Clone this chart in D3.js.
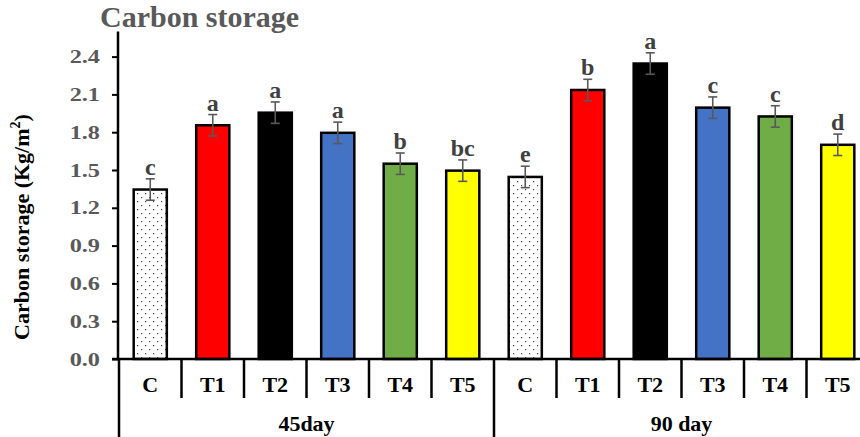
<!DOCTYPE html>
<html><head><meta charset="utf-8">
<script src="https://cdn.jsdelivr.net/npm/d3@7"></script>
<style>body{margin:0;background:#fff;}svg{display:block;}</style>
</head><body>
<svg id="chart" width="860" height="437"></svg>
<script>
const categories = ["C","T1","T2","T3","T4","T5"];
const groups = ["45day","90 day"];
const values45 = [1.345, 1.855, 1.955, 1.795, 1.55, 1.495];
const values90 = [1.445, 2.135, 2.345, 1.995, 1.925, 1.70];
const errors45 = [0.085, 0.085, 0.085, 0.085, 0.085, 0.085];
const errors90 = [0.085, 0.085, 0.085, 0.085, 0.085, 0.085];
const letters45 = ["c","a","a","a","b","bc"];
const letters90 = ["e","b","a","c","c","d"];
const fills = ["url(#dots)","#ff0000","#000000","#4472c4","#70ad47","#ffff00"];
const yTicks = [0,0.3,0.6,0.9,1.2,1.5,1.8,2.1,2.4];

const data = [];
groups.forEach((g,gi)=>{
  const vals = gi===0?values45:values90, errs = gi===0?errors45:errors90, lets = gi===0?letters45:letters90;
  categories.forEach((c,ci)=>data.push({key:gi+"-"+ci, group:g, cat:c, ci, v:vals[ci], e:errs[ci], l:lets[ci]}));
});

const svg = d3.select("#chart");
const font = "'Liberation Serif','Times New Roman',serif";
const defs = svg.append("defs");
const pat = defs.append("pattern").attr("id","dots").attr("patternUnits","userSpaceOnUse").attr("width",8).attr("height",8);
pat.append("rect").attr("width",8).attr("height",8).attr("fill","#fff");
pat.append("rect").attr("x",1).attr("y",1).attr("width",1.2).attr("height",1.2).attr("fill","#444");
pat.append("rect").attr("x",5).attr("y",5).attr("width",1.2).attr("height",1.2).attr("fill","#444");

const x0 = 119, x1 = 869, yBase = 359;
const x = d3.scaleBand().domain(data.map(d=>d.key)).range([x0,x1]).paddingInner(0.47).paddingOuter(0.235);
const y = d3.scaleLinear().domain([0,2.6]).range([yBase, yBase - 2.6/0.3*37.8]);

// title
svg.append("text").attr("x",100).attr("y",27).attr("font-family",font).attr("font-weight","bold")
  .attr("font-size",30).attr("fill","#595959").text("Carbon storage");

// y axis
const yAxis = d3.axisLeft(y).tickValues(yTicks).tickSize(6).tickFormat(d3.format(".1f"));
const ga = svg.append("g").attr("transform",`translate(${x0-1},0)`).call(yAxis);
ga.select(".domain").attr("stroke","#000").attr("stroke-width",2.5).attr("d",`M0,${y(2.6)}V${yBase}`);
ga.selectAll(".tick line").attr("stroke","#000").attr("stroke-width",2);
ga.selectAll(".tick text").each(function(){
  const t = d3.select(this);
  t.attr("x",null).attr("dy",null).attr("text-anchor","end")
   .attr("transform","translate(-18,6) scale(1.35,1)")
   .attr("font-family",font).attr("font-weight","bold").attr("font-size",18).attr("fill","#595959");
});

// y label
const yl = svg.append("text").attr("transform","translate(29,227) rotate(-90)").attr("text-anchor","middle")
  .attr("font-family",font).attr("font-weight","bold").attr("font-size",22).attr("fill","#000");
yl.append("tspan").text("Carbon storage (Kg/m");
yl.append("tspan").attr("font-size",14).attr("dy",-9).text("2");
yl.append("tspan").attr("dy",9).text(")");

// bars
svg.append("g").selectAll("rect").data(data).join("rect")
  .attr("x",d=>x(d.key)).attr("width",x.bandwidth())
  .attr("y",d=>y(d.v)).attr("height",d=>yBase-y(d.v))
  .attr("fill",d=>fills[d.ci]).attr("stroke","#000").attr("stroke-width",2.5);

// error bars
const eb = svg.append("g").attr("stroke","#595959").attr("stroke-width",1.6);
data.forEach(d=>{
  const cx = x(d.key)+x.bandwidth()/2;
  eb.append("line").attr("x1",cx).attr("x2",cx).attr("y1",y(d.v+d.e)).attr("y2",y(d.v-d.e));
  eb.append("line").attr("x1",cx-4.5).attr("x2",cx+4.5).attr("y1",y(d.v+d.e)).attr("y2",y(d.v+d.e));
  eb.append("line").attr("x1",cx-4.5).attr("x2",cx+4.5).attr("y1",y(d.v-d.e)).attr("y2",y(d.v-d.e));
});

// letters
svg.append("g").selectAll("text").data(data).join("text")
  .attr("x",d=>x(d.key)+x.bandwidth()/2).attr("y",d=>y(d.v+d.e)-4)
  .attr("text-anchor","middle").attr("font-family",font).attr("font-weight","bold")
  .attr("font-size",24).attr("fill","#404040").text(d=>d.l);

// x axis
svg.append("line").attr("x1",x0-7).attr("x2",x1).attr("y1",yBase).attr("y2",yBase).attr("stroke","#000").attr("stroke-width",2.5);
const step = x.step();
const gx = svg.append("g").attr("stroke","#000").attr("stroke-width",2.5);
d3.range(13).forEach(i=>{
  const xx = x0 + i*step;
  const isGroup = i%6===0;
  gx.append("line").attr("x1",xx).attr("x2",xx).attr("y1",yBase).attr("y2",isGroup?437:398);
});
svg.append("g").selectAll("text").data(data).join("text")
  .attr("x",d=>x(d.key)+x.bandwidth()/2).attr("y",392)
  .attr("text-anchor","middle").attr("font-family",font).attr("font-weight","bold")
  .attr("font-size",22).attr("fill","#000").text(d=>d.cat);
svg.append("g").selectAll("text").data(groups).join("text")
  .attr("x",(d,i)=>x0 + (i*6+3)*step).attr("y",431)
  .attr("text-anchor","middle").attr("font-family",font).attr("font-weight","bold")
  .attr("font-size",22).attr("fill","#000").text(d=>d);
</script>
</body></html>
